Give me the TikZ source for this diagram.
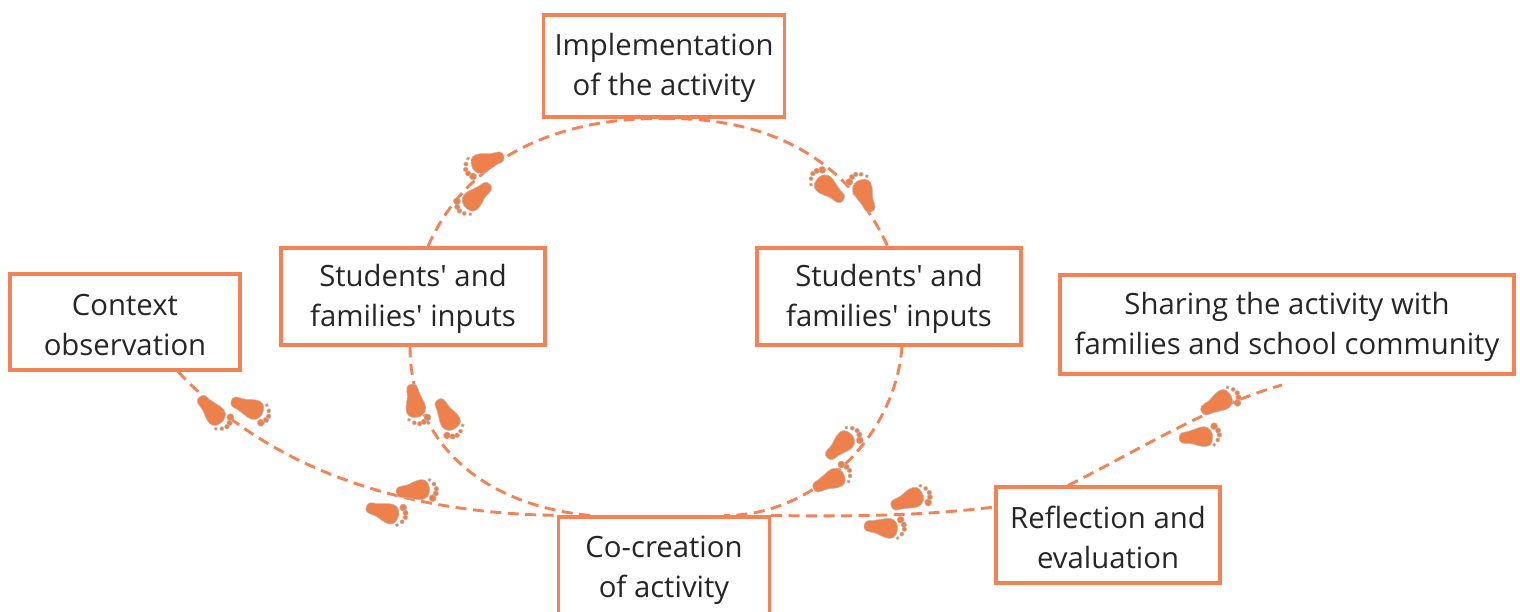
\documentclass[tikz,border=0pt]{standalone}
\usepackage{fontspec}
\setmainfont{Open Sans}
\definecolor{trail}{RGB}{244,130,84}
\definecolor{sole}{RGB}{238,128,76}
\definecolor{ink}{RGB}{38,38,38}
\tikzset{
  stage/.style={draw=trail, line width=3.2pt, fill=white, text=ink, align=center, inner sep=0pt, font=\fontsize{29.3}{40}\selectfont, execute at begin node=\rule{0pt}{67pt}},
  walk/.style={draw=trail, line width=2.9pt, dash pattern=on 11pt off 6.5pt},
  foot/.pic={
    \path[fill=sole, draw=gray!50, line width=0.5pt] plot[smooth cycle, tension=0.7] coordinates
      {(-4,0) (-1.5,-5) (8,-6.5) (18,-10) (26,-9.5) (29.5,-3) (28.5,5) (22,9.5) (13,8) (5,6) (-1.5,5)};
    \foreach \tx/\ty/\tr in {32/9/3.6, 35.5/4.5/2.8, 36.5/0/2.4, 34.5/-5/2.1, 30.5/-9.5/1.8}{
      \path[fill=sole, draw=gray!50, line width=0.4pt] (\tx,\ty) circle (\tr pt);
    }
  }
}
\begin{document}
\begin{tikzpicture}[x=1pt,y=-1pt]
\useasboundingbox (0,0) rectangle (1520,612);

% Stages
\begin{scope}
\clip (0,0) rectangle (1520,612);
\node[stage, minimum width=211pt, minimum height=101pt] (cocreate) at (664,567.5) {Co-creation\\of activity};
\end{scope}
\node[stage, minimum width=241pt, minimum height=102pt] (implement) at (664,66) {Implementation\\of the activity};
\node[stage, minimum width=230pt, minimum height=96pt] (context) at (125,322) {Context\\observation};
\node[stage, minimum width=264pt, minimum height=97pt] (inputleft) at (413,296.5) {Students\textquotesingle{} and\\families\textquotesingle{} inputs};
\node[stage, minimum width=264pt, minimum height=97pt] (inputright) at (889,296.5) {Students\textquotesingle{} and\\families\textquotesingle{} inputs};
\node[stage, minimum width=454pt, minimum height=99pt] (sharing) at (1287,324.5) {Sharing the activity with\\families and school community};
\node[stage, minimum width=224pt, minimum height=96pt] (reflect) at (1108,535) {Reflection and\\evaluation};

% Free end of the last stretch
\coordinate (trailend) at (1282,385);

% Dashed trail
\draw[walk] ([xshift=53pt]context.south) .. controls (270,470) and (405,514) .. ([xshift=-104pt]cocreate.north);
\draw[walk] ([xshift=-74pt]cocreate.north) .. controls (480,505) and (410,440) .. ([xshift=-3pt]inputleft.south);
\draw[walk] ([xshift=15pt]inputleft.north) .. controls (470,150) and (570,117) .. (implement.south);
\draw[walk] (implement.south) .. controls (770,117) and (850,160) .. ([yshift=-3pt]inputright.north);
\draw[walk] ([xshift=13pt]inputright.south) .. controls (895,440) and (810,517) .. ([xshift=60pt]cocreate.north);
\draw[walk] (cocreate.north east) .. controls (860,517) and (930,515) .. (reflect.west |- 0,507);
\draw[walk] ([xshift=-40pt]reflect.north) .. controls (1130,455) and (1210,405) .. (trailend);

% Footprints
\foreach \fx/\fy/\fa/\fs in {
  202/400/-47/-1, 235/402/-23/1, 400/492/5/1, 370/508/-15/-1,
  412/388/-78/-1, 440/403/-62/1, 500/157/200/-1, 487/187/221/1,
  830/455/42/1, 817/487/27/-1, 895/505/20/1, 868/526/-5/-1,
  1205/410/28/1, 1183/438/5/-1, 840/198/138/1, 870/208/113/-1}{
  \pic[rotate=\fa, yscale=\fs] at (\fx,\fy) {foot};
}
\end{tikzpicture}
\end{document}
